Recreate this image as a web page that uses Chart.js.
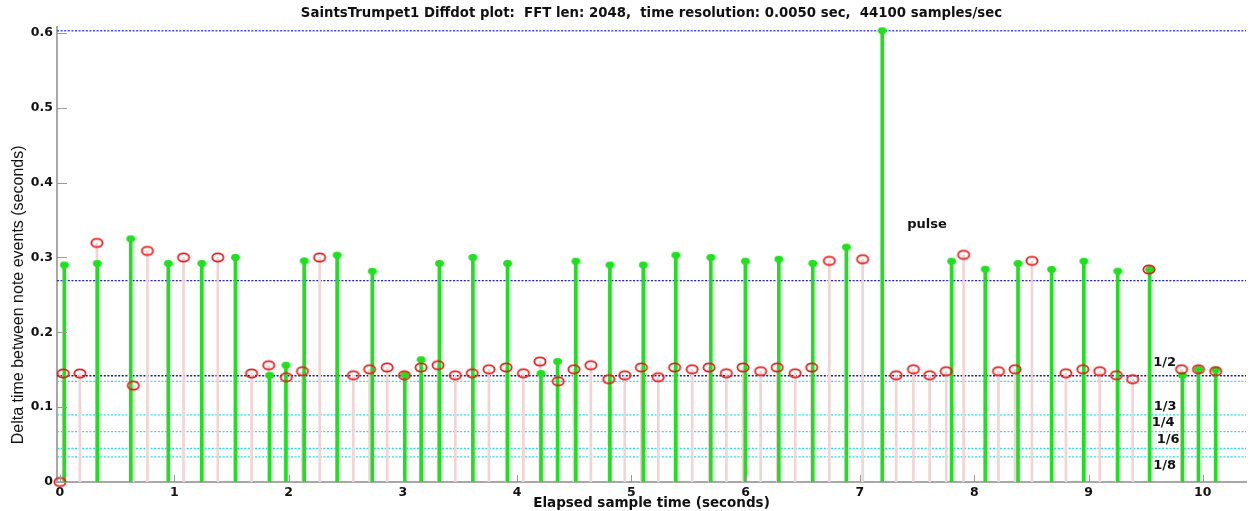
<!DOCTYPE html>
<html>
<head>
<meta charset="utf-8">
<title>SaintsTrumpet1 Diffdot plot</title>
<script src="https://cdn.jsdelivr.net/npm/chart.js@4.4.1/dist/chart.umd.min.js"></script>
<style>
  html, body { margin: 0; padding: 0; background: #ffffff; overflow: hidden; }
  #wrap { width: 1253px; height: 511px; }
</style>
</head>
<body>
<div id="wrap"><canvas id="chart" width="1253" height="511"></canvas></div>
<script>
// Onset-to-onset intervals (green stems, filled dots)
const diffTimes = [0.038, 0.326, 0.619, 0.948, 1.241, 1.535, 1.834, 1.977, 2.137, 2.425,
  2.733, 3.017, 3.160, 3.320, 3.613, 3.916, 4.209, 4.354, 4.514, 4.812,
  5.104, 5.389, 5.695, 5.997, 6.290, 6.587, 6.881, 7.195, 7.802, 8.096,
  8.383, 8.677, 8.959, 9.256, 9.535, 9.822, 9.962, 10.113];
const diffValues = [0.290, 0.292, 0.325, 0.292, 0.292, 0.300, 0.1426, 0.156, 0.2955, 0.303,
  0.2816, 0.143, 0.1635, 0.292, 0.300, 0.292, 0.145, 0.161, 0.295, 0.290,
  0.290, 0.303, 0.300, 0.295, 0.2977, 0.292, 0.3138, 0.603, 0.295, 0.2843,
  0.292, 0.284, 0.295, 0.2816, 0.284, 0.1426, 0.1506, 0.1497];

// Note-event intervals (pink stems, open red circles)
const eventTimes = [0.000, 0.029, 0.174, 0.323, 0.642, 0.765, 1.081, 1.381, 1.677, 1.826,
  1.980, 2.122, 2.272, 2.567, 2.709, 2.863, 3.014, 3.160, 3.308, 3.459,
  3.607, 3.753, 3.904, 4.055, 4.200, 4.360, 4.497, 4.645, 4.802, 4.942,
  5.087, 5.235, 5.378, 5.532, 5.680, 5.831, 5.977, 6.131, 6.276, 6.433,
  6.578, 6.732, 7.023, 7.317, 7.468, 7.610, 7.755, 7.907, 8.212, 8.357,
  8.505, 8.802, 8.950, 9.098, 9.244, 9.386, 9.529, 9.814, 9.962, 10.113];
const eventValues = [0, 0.145, 0.145, 0.3195, 0.1288, 0.3088, 0.300, 0.300, 0.145, 0.156,
  0.140, 0.148, 0.300, 0.1426, 0.1506, 0.153, 0.1426, 0.153, 0.156, 0.1426,
  0.1453, 0.1506, 0.153, 0.1453, 0.161, 0.1346, 0.1506, 0.156, 0.1373, 0.1426,
  0.153, 0.140, 0.153, 0.1506, 0.153, 0.1453, 0.153, 0.148, 0.153, 0.1453,
  0.153, 0.2955, 0.2977, 0.1426, 0.1506, 0.1426, 0.148, 0.3035, 0.148, 0.1506,
  0.2955, 0.1453, 0.1506, 0.148, 0.1426, 0.1373, 0.284, 0.1506, 0.1506, 0.148];

// Reference levels
const maxLevel = 0.603;
const pulseLevel = 0.269;
const medianLevel = 0.142;
const fractionLabels = ['1/2', '1/3', '1/4', '1/6', '1/8'];
const fractionLevels = [0.1345, 0.0897, 0.0673, 0.0448, 0.0336];

// Axis ranges and ticks
const xRange = [-0.026, 10.378];
const yRange = [0, 0.608];
const xTickValues = [0, 1, 2, 3, 4, 5, 6, 7, 8, 9, 10];
const yTickValues = [0, 0.1, 0.2, 0.3, 0.4, 0.5, 0.6];

const FONT = '"DejaVu Sans", "Liberation Sans", Arial, sans-serif';
const NARROW = '"Liberation Sans Narrow", "Liberation Sans", Arial, sans-serif';
const Y_TITLE = 'Delta time between note events (seconds)';

// Elliptical marker sprites
function ellipseSprite(rx, ry, stroke, fill, lw) {
  const pad = Math.ceil(lw) + 1;
  const c = document.createElement('canvas');
  c.width = Math.ceil(rx * 2 + pad * 2);
  c.height = Math.ceil(ry * 2 + pad * 2);
  const g = c.getContext('2d');
  g.beginPath();
  g.ellipse(c.width / 2, c.height / 2, rx, ry, 0, 0, Math.PI * 2);
  if (fill) { g.fillStyle = fill; g.fill(); }
  if (stroke) { g.lineWidth = lw; g.strokeStyle = stroke; g.stroke(); }
  return c;
}
const ringSprite = ellipseSprite(5.6, 4.1, 'rgb(236,24,24)', null, 1.8);
const dotSprite = ellipseSprite(4.4, 3.4, null, 'rgb(28,226,28)', 0);

const pts = (xs, ys) => xs.map((x, i) => ({ x: x, y: ys[i] }));
const hline = (v) => [{ x: xRange[0], y: v }, { x: xRange[1], y: v }];

function refLine(v, color, order) {
  return {
    type: 'line', data: hline(v), borderColor: color, borderWidth: 1.4,
    borderDash: [2, 1.6], pointRadius: 0, fill: false, order: order, clip: false
  };
}

// Inward tick marks, rotated y-axis title and in-plot text annotations
const decorations = {
  id: 'decorations',
  afterDatasetsDraw(chart, args, opts) {
    const { ctx, scales: { x, y }, chartArea: a } = chart;
    ctx.save();
    ctx.strokeStyle = '#9a9a9a';
    ctx.lineWidth = 1;
    ctx.beginPath();
    yTickValues.forEach(v => {
      const py = Math.round(y.getPixelForValue(v)) + 0.5;
      ctx.moveTo(a.left, py); ctx.lineTo(a.left + 10, py);
    });
    xTickValues.forEach(v => {
      const px = Math.round(x.getPixelForValue(v)) + 0.5;
      ctx.moveTo(px, a.bottom); ctx.lineTo(px, a.bottom - 7);
    });
    ctx.stroke();

    ctx.fillStyle = '#111';
    ctx.font = 'bold 13px ' + FONT;
    ctx.textBaseline = 'middle';
    ctx.textAlign = 'left';
    opts.notes.forEach(n => {
      ctx.fillText(n.text, x.getPixelForValue(n.x), y.getPixelForValue(n.y));
    });

    // y-axis title, centred a little below the middle of the axis
    ctx.font = '16px ' + NARROW;
    ctx.textAlign = 'center';
    ctx.translate(19, y.getPixelForValue(opts.yTitleAt));
    ctx.rotate(-Math.PI / 2);
    ctx.fillText(Y_TITLE, 0, 0);
    ctx.restore();
  }
};

const fractionNoteY = [0.160, 0.1006, 0.0792, 0.0561, 0.0214];
const fractionNoteX = [9.567, 9.570, 9.553, 9.597, 9.567];
const notes = [{ text: 'pulse', x: 7.413, y: 0.3436 }].concat(
  fractionLabels.map((t, i) => ({ text: t, x: fractionNoteX[i], y: fractionNoteY[i] })));

new Chart(document.getElementById('chart'), {
  type: 'scatter',
  data: {
    datasets: [
      { type: 'scatter', data: pts(eventTimes, eventValues), pointStyle: ringSprite,
        pointRadius: 6, order: 1, clip: false },
      { type: 'scatter', data: pts(diffTimes, diffValues), pointStyle: dotSprite,
        pointRadius: 5, order: 2, clip: false },
      { type: 'bar', data: pts(diffTimes, diffValues), backgroundColor: 'rgb(28,226,28)',
        barThickness: 3, grouped: false, borderWidth: 0, order: 3 },
      { type: 'bar', data: pts(eventTimes, eventValues), backgroundColor: 'rgb(242,212,212)',
        barThickness: 2, grouped: false, borderWidth: 0, order: 4 },
      refLine(maxLevel, 'rgb(70,70,255)', 5),
      refLine(pulseLevel, 'rgb(30,30,215)', 6),
      refLine(medianLevel, 'rgb(20,20,165)', 7),
      ...fractionLevels.map((v, i) => refLine(v, 'rgb(40,220,230)', 8 + i))
    ]
  },
  options: {
    responsive: false,
    animation: false,
    devicePixelRatio: 1,
    events: [],
    layout: { padding: { top: 0, right: 3, bottom: 0, left: 0 } },
    plugins: {
      legend: { display: false },
      tooltip: { enabled: false },
      title: {
        display: true, fullSize: false,
        text: 'SaintsTrumpet1 Diffdot plot:  FFT len: 2048,  time resolution: 0.0050 sec,  44100 samples/sec',
        color: '#111', font: { family: FONT, size: 13.3, weight: 'bold' },
        padding: { top: 6, bottom: 5 }
      },
      decorations: { notes: notes, yTitleAt: 0.25 }
    },
    scales: {
      x: {
        type: 'linear', min: xRange[0], max: xRange[1], offset: false,
        afterFit: s => { s.height = 29; },
        afterBuildTicks: s => { s.ticks = xTickValues.map(v => ({ value: v })); },
        ticks: { autoSkip: false, maxRotation: 0, padding: 3, color: '#111',
          font: { family: FONT, size: 12.5, weight: 'bold' } },
        grid: { display: false, drawTicks: false, offset: false },
        border: { display: true, color: '#a8a8a8', width: 2 },
        title: { display: true, text: 'Elapsed sample time (seconds)', color: '#111',
          font: { family: FONT, size: 13.5, weight: 'bold' }, padding: { top: 0, bottom: -1 } }
      },
      y: {
        type: 'linear', min: yRange[0], max: yRange[1],
        afterFit: s => { s.width = 57; },
        afterBuildTicks: s => { s.ticks = yTickValues.map(v => ({ value: v })); },
        ticks: { autoSkip: false, padding: 4, color: '#111',
          font: { family: FONT, size: 12.5, weight: 'bold' } },
        grid: { display: false, drawTicks: false },
        border: { display: true, color: '#a8a8a8', width: 2 }
      }
    }
  },
  plugins: [decorations]
});
</script>
</body>
</html>
